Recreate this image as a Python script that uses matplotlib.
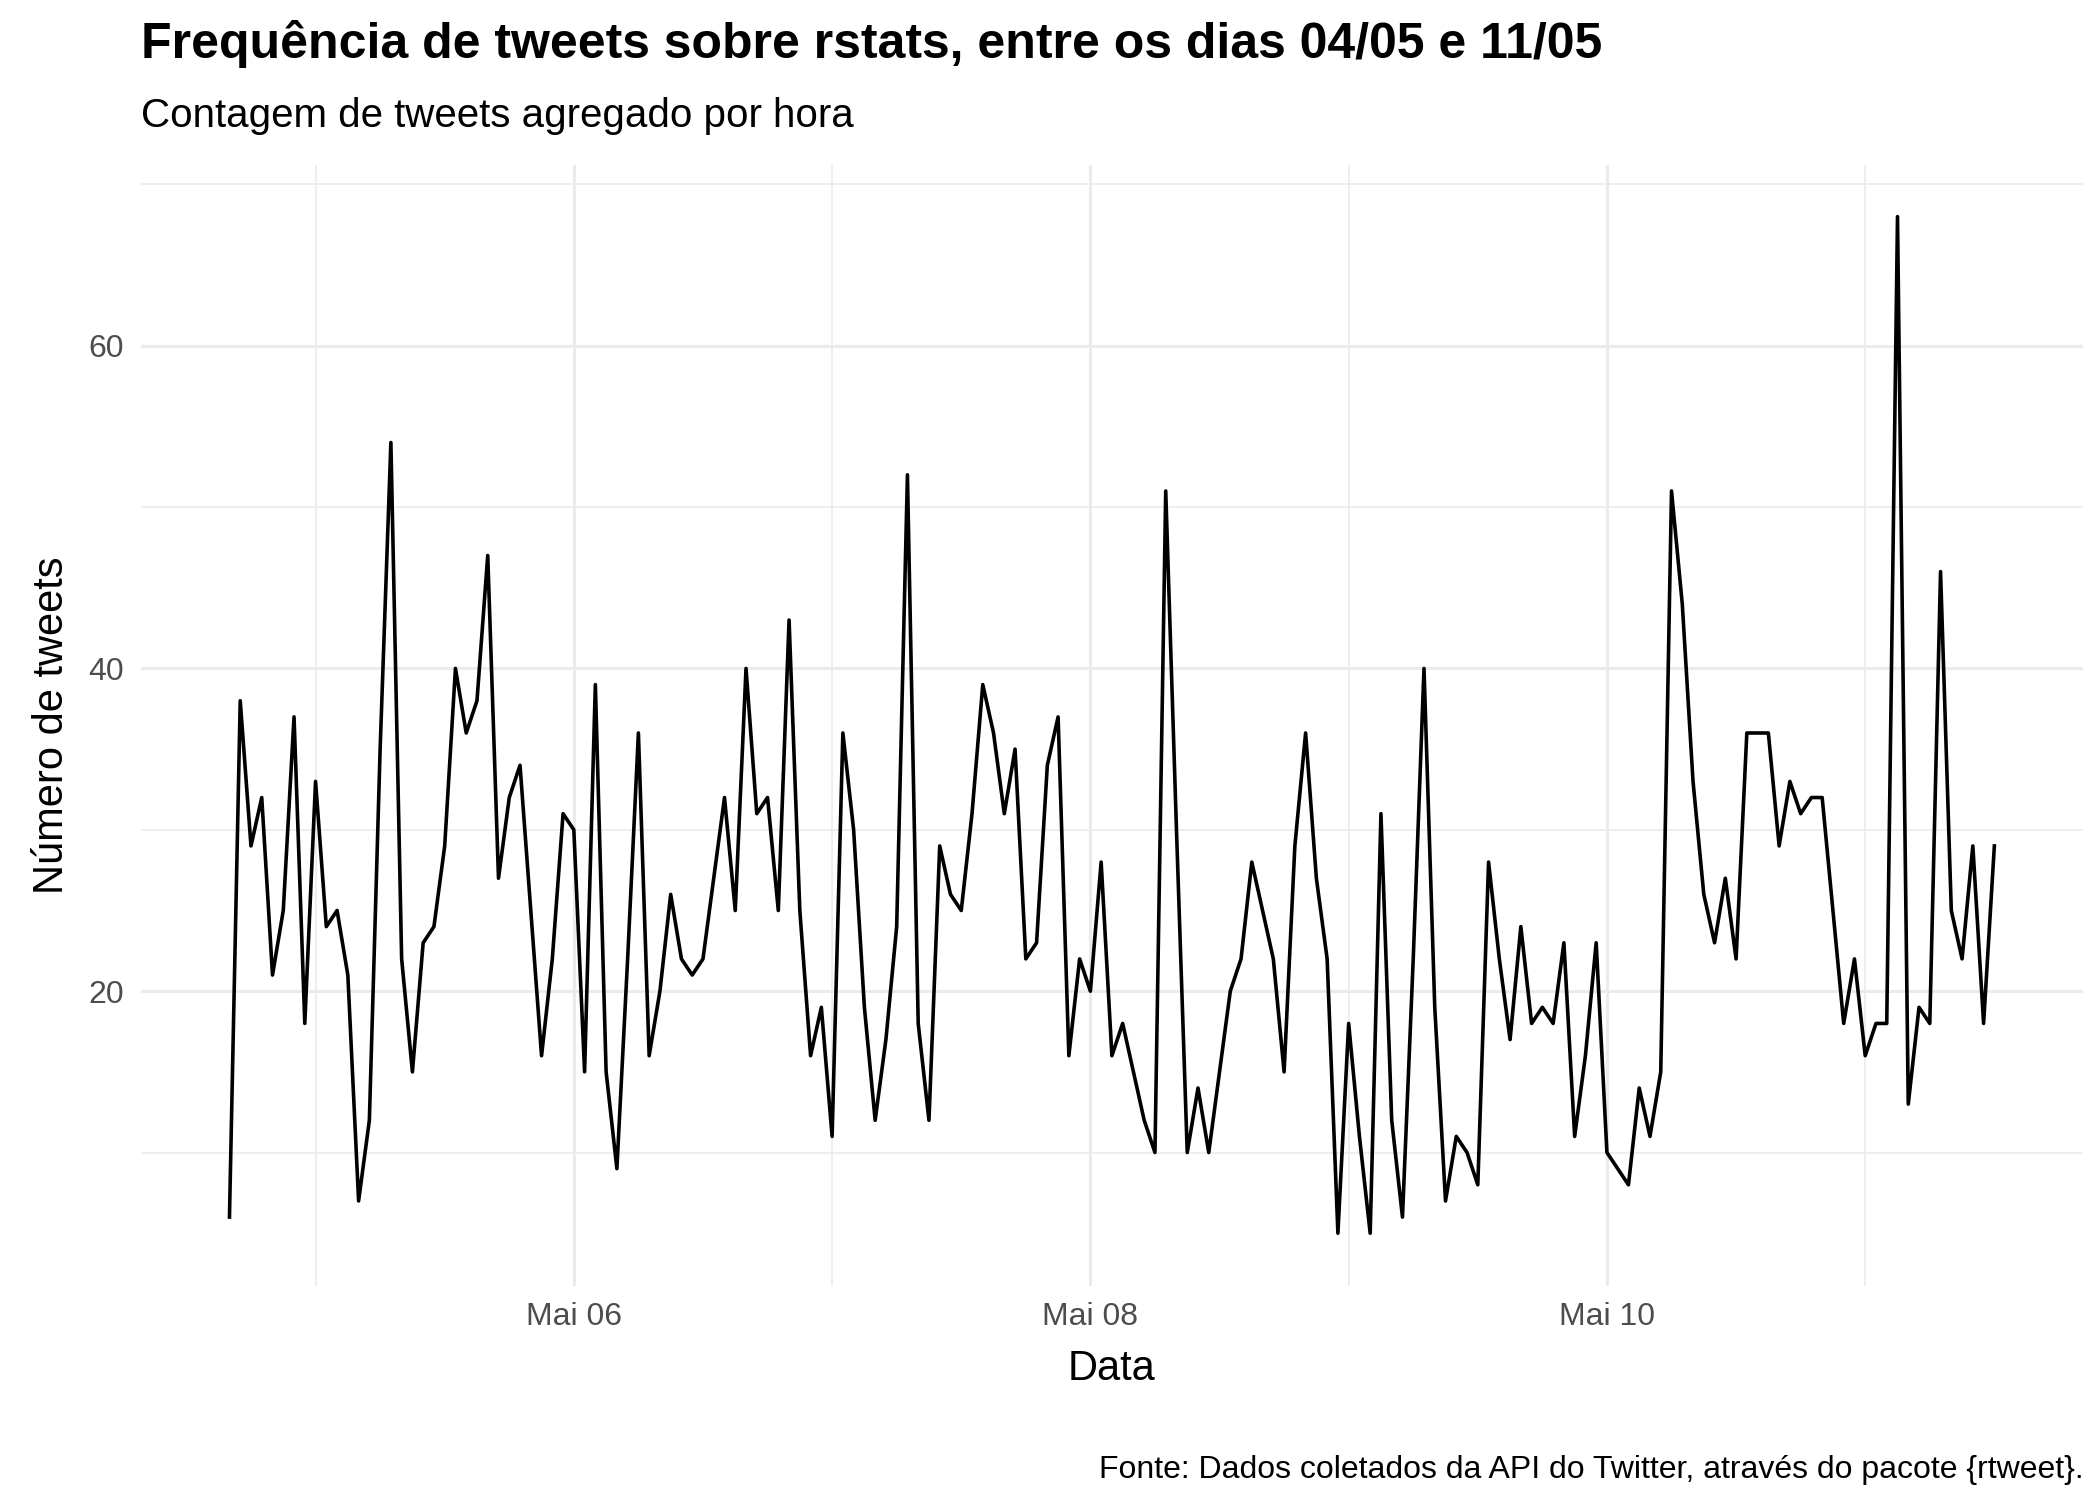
import numpy as np
import pandas as pd
import matplotlib
matplotlib.use('Agg')
import matplotlib.pyplot as plt
import matplotlib.dates as mdates
from matplotlib.ticker import FuncFormatter, MultipleLocator

plt.rcParams['font.family'] = ['Liberation Sans', 'DejaVu Sans']

# hourly counts
tweets = [6, 38, 29, 32, 21, 25, 37, 18, 33, 24, 25, 21, 7, 12, 35, 54,
          22, 15, 23, 24, 29, 40, 36, 38, 47, 27, 32, 34, 25, 16, 22, 31, 30, 15, 39, 15, 9, 22, 36, 16,
          20, 26, 22, 21, 22, 27, 32, 25, 40, 31, 32, 25, 43, 25, 16, 19, 11, 36, 30, 19, 12, 17, 24, 52,
          18, 12, 29, 26, 25, 31, 39, 36, 31, 35, 22, 23, 34, 37, 16, 22, 20, 28, 16, 18, 15, 12, 10, 51,
          30, 10, 14, 10, 15, 20, 22, 28, 25, 22, 15, 29, 36, 27, 22, 5, 18, 11, 5, 31, 12, 6, 22, 40,
          19, 7, 11, 10, 8, 28, 22, 17, 24, 18, 19, 18, 23, 11, 16, 23, 10, 9, 8, 14, 11, 15, 51, 44,
          33, 26, 23, 27, 22, 36, 36, 36, 29, 33, 31, 32, 32, 25, 18, 22, 16, 18, 18, 68, 13, 19, 18, 46,
          25, 22, 29, 18, 29]
hours = pd.date_range('2020-05-04 16:00', periods=len(tweets), freq='h')

months_pt = ['Jan', 'Fev', 'Mar', 'Abr', 'Mai', 'Jun', 'Jul', 'Ago', 'Set', 'Out', 'Nov', 'Dez']

fig = plt.figure(figsize=(10.5, 7.5), dpi=200)
ax = fig.add_axes([0.067, 0.143, 0.925, 0.747])
ax.plot(hours, tweets, color='black', linewidth=1.3)

may6 = pd.Timestamp('2020-05-06')
ax.set_xlim(mdates.date2num(may6 - pd.Timedelta(days=1.677)), mdates.date2num(may6 + pd.Timedelta(days=5.844)))
ax.set_ylim(1.76, 71.2)

ax.xaxis.set_major_locator(mdates.DayLocator(bymonthday=[6, 8, 10]))
ax.xaxis.set_minor_locator(mdates.DayLocator(bymonthday=[5, 7, 9, 11]))
ax.xaxis.set_major_formatter(FuncFormatter(
    lambda v, p: f"{months_pt[mdates.num2date(v).month - 1]} {mdates.num2date(v).day:02d}"))
ax.yaxis.set_major_locator(MultipleLocator(20))
ax.yaxis.set_minor_locator(MultipleLocator(10))

ax.grid(which='major', color='#ebebeb', linewidth=1.1)
ax.grid(which='minor', color='#ebebeb', linewidth=0.6)
ax.set_axisbelow(True)
for s in ax.spines.values():
    s.set_visible(False)
ax.tick_params(which='both', length=0, labelsize=11.5, labelcolor='#4d4d4d', pad=6)

ax.set_xlabel('Data', fontsize=15, labelpad=6)
ax.set_ylabel('Número de tweets', fontsize=15, labelpad=6)

fig.text(0.067, 0.955, 'Frequência de tweets sobre rstats, entre os dias 04/05 e 11/05',
         fontsize=18, fontweight='bold', va='bottom')
fig.text(0.067, 0.91, 'Contagem de tweets agregado por hora', fontsize=14.5, va='bottom')
fig.text(0.992, 0.01, 'Fonte: Dados coletados da API do Twitter, através do pacote {rtweet}.',
         fontsize=11.5, ha='right', va='bottom')

fig.savefig('out.png', dpi=200)
